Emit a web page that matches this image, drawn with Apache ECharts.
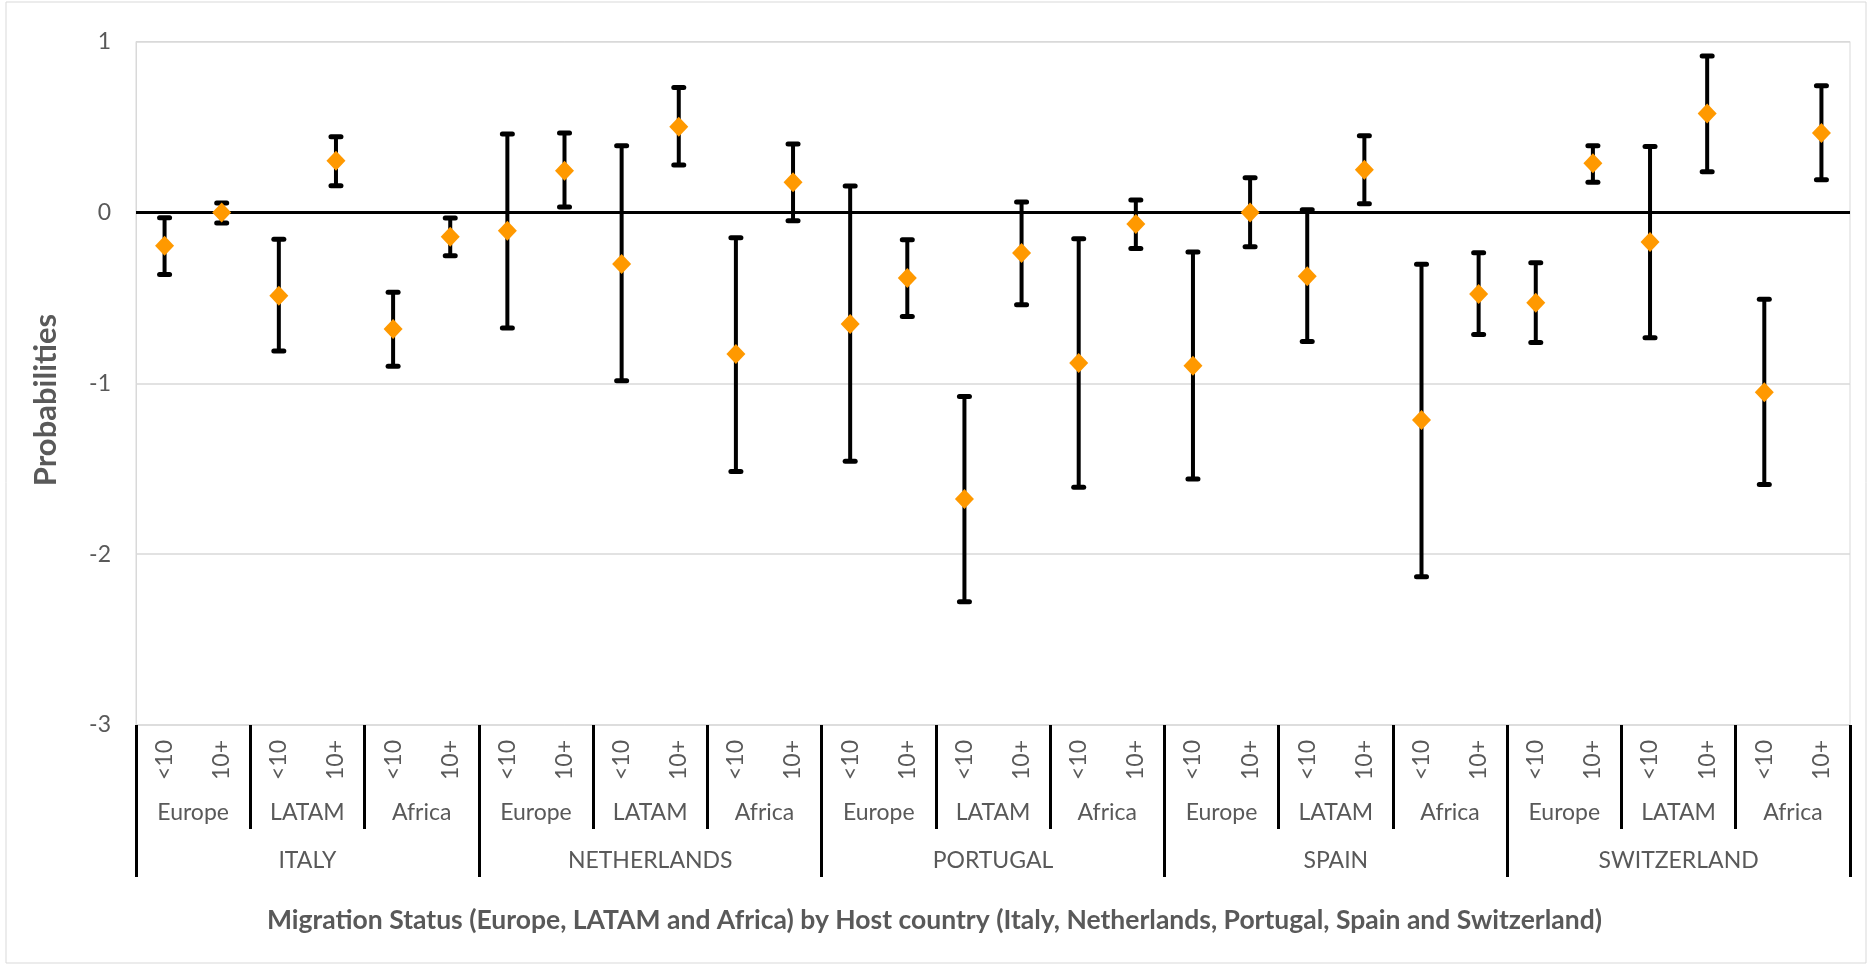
<!DOCTYPE html>
<html>
<head>
<meta charset="utf-8">
<script src="https://cdn.jsdelivr.net/npm/echarts@6/dist/echarts.min.js"></script>
<style>
html,body{margin:0;padding:0;background:#fff;}
#chart{width:1869px;height:964px;}
</style>
</head>
<body>
<div id="chart"></div>
<script>
// ---- Data ----
const durationLabels = ['<10','10+','<10','10+','<10','10+','<10','10+','<10','10+','<10','10+','<10','10+','<10','10+','<10','10+','<10','10+','<10','10+','<10','10+','<10','10+','<10','10+','<10','10+'];
const regionLabels = ['Europe','LATAM','Africa','Europe','LATAM','Africa','Europe','LATAM','Africa','Europe','LATAM','Africa','Europe','LATAM','Africa'];
const countryLabels = ['ITALY','NETHERLANDS','PORTUGAL','SPAIN','SWITZERLAND'];
const estimates = [-0.195, 0.0, -0.488, 0.302, -0.683, -0.142,
                   -0.107, 0.244, -0.302, 0.501, -0.829, 0.176,
                   -0.653, -0.384, -1.677, -0.238, -0.882, -0.068,
                   -0.897, 0.0, -0.374, 0.250, -1.215, -0.478,
                   -0.529, 0.287, -0.174, 0.579, -1.053, 0.464];
const lowerCI = [-0.363, -0.062, -0.811, 0.156, -0.901, -0.254,
                 -0.677, 0.031, -0.985, 0.277, -1.516, -0.049,
                 -1.457, -0.609, -2.278, -0.540, -1.609, -0.211,
                 -1.561, -0.201, -0.755, 0.051, -2.132, -0.714,
                 -0.761, 0.176, -0.733, 0.238, -1.592, 0.191];
const upperCI = [-0.031, 0.055, -0.158, 0.443, -0.468, -0.033,
                 0.458, 0.464, 0.390, 0.731, -0.148, 0.400,
                 0.154, -0.160, -1.077, 0.060, -0.154, 0.072,
                 -0.232, 0.203, 0.016, 0.449, -0.304, -0.236,
                 -0.295, 0.390, 0.386, 0.915, -0.509, 0.741];
const yTicks = {min: -3, max: 1, interval: 1};

// ---- Build ----
const errData = estimates.map((v, i) => [i, lowerCI[i], upperCI[i]]);
const pointData = estimates.map((v, i) => [i, v]);
const FONT = 'Lato';
const GREY = '#595959';

const chart = echarts.init(document.getElementById('chart'), null, {renderer: 'canvas'});
chart.setOption({
  animation: false,
  backgroundColor: '#fff',
  title: {
    text: 'Migration Status (Europe, LATAM and Africa) by Host country (Italy, Netherlands, Portugal, Spain and Switzerland)',
    left: 'center',
    top: 902,
    textStyle: {fontFamily: FONT, fontSize: 26.5, fontWeight: 'bold', color: GREY}
  },
  graphic: [
    {type: 'rect', shape: {x: 6, y: 2, width: 1860, height: 961}, style: {fill: 'none', stroke: '#d9d9d9', lineWidth: 1}, silent: true},
    {type: 'text', x: 46, y: 400, rotation: Math.PI / 2,
     style: {text: 'Probabilities', fontFamily: FONT, fontSize: 31, fontWeight: 'bold', fill: GREY, align: 'center', verticalAlign: 'middle'}}
  ],
  grid: {left: 136, right: 19, top: 41.5, bottom: 239, show: true, borderColor: '#d9d9d9', borderWidth: 1, containLabel: false},
  xAxis: [
    {
      type: 'category', data: durationLabels, boundaryGap: true, position: 'bottom',
      axisLine: {show: false}, axisTick: {show: false},
      axisLabel: {interval: 0, rotate: 90, margin: 15, fontFamily: FONT, fontSize: 23, color: GREY}
    },
    {
      type: 'category', data: regionLabels, boundaryGap: true, position: 'bottom',
      axisLine: {show: false},
      axisTick: {show: true, interval: 0, length: 104, lineStyle: {color: '#000', width: 3}},
      axisLabel: {interval: 0, margin: 76, fontFamily: FONT, fontSize: 23, color: GREY}
    },
    {
      type: 'category', data: countryLabels, boundaryGap: true, position: 'bottom',
      axisLine: {show: false},
      axisTick: {show: true, interval: 0, length: 152, lineStyle: {color: '#000', width: 3}},
      axisLabel: {interval: 0, margin: 124, fontFamily: FONT, fontSize: 23, color: GREY}
    }
  ],
  yAxis: {
    type: 'value', min: yTicks.min, max: yTicks.max, interval: yTicks.interval,
    axisLine: {show: true, lineStyle: {color: '#d9d9d9', width: 1}},
    axisTick: {show: false},
    axisLabel: {margin: 25, fontFamily: FONT, fontSize: 23, color: GREY},
    splitLine: {show: true, lineStyle: {color: '#d9d9d9', width: 1.5}}
  },
  series: [
    {
      type: 'custom',
      xAxisIndex: 0,
      data: errData,
      encode: {x: 0, y: [1, 2]},
      z: 3,
      renderItem: function (params, api) {
        const x = api.value(0);
        const lo = api.coord([x, api.value(1)]);
        const hi = api.coord([x, api.value(2)]);
        const cw = 5;
        const st = {stroke: '#000', lineWidth: 4};
        const cs = {stroke: '#000', lineWidth: 5, lineCap: 'round'};
        return {
          type: 'group',
          children: [
            {type: 'line', shape: {x1: lo[0], y1: lo[1], x2: hi[0], y2: hi[1]}, style: st},
            {type: 'line', shape: {x1: lo[0] - cw, y1: lo[1], x2: lo[0] + cw, y2: lo[1]}, style: cs},
            {type: 'line', shape: {x1: hi[0] - cw, y1: hi[1], x2: hi[0] + cw, y2: hi[1]}, style: cs}
          ]
        };
      },
      markLine: {
        silent: true,
        symbol: 'none',
        label: {show: false},
        lineStyle: {color: '#000', width: 3, type: 'solid'},
        data: [{yAxis: 0}]
      }
    },
    {
      type: 'scatter',
      xAxisIndex: 0,
      data: pointData,
      symbol: 'diamond',
      symbolSize: [19, 20],
      itemStyle: {color: '#FF9900', opacity: 1},
      z: 5
    }
  ]
});
</script>
</body>
</html>
